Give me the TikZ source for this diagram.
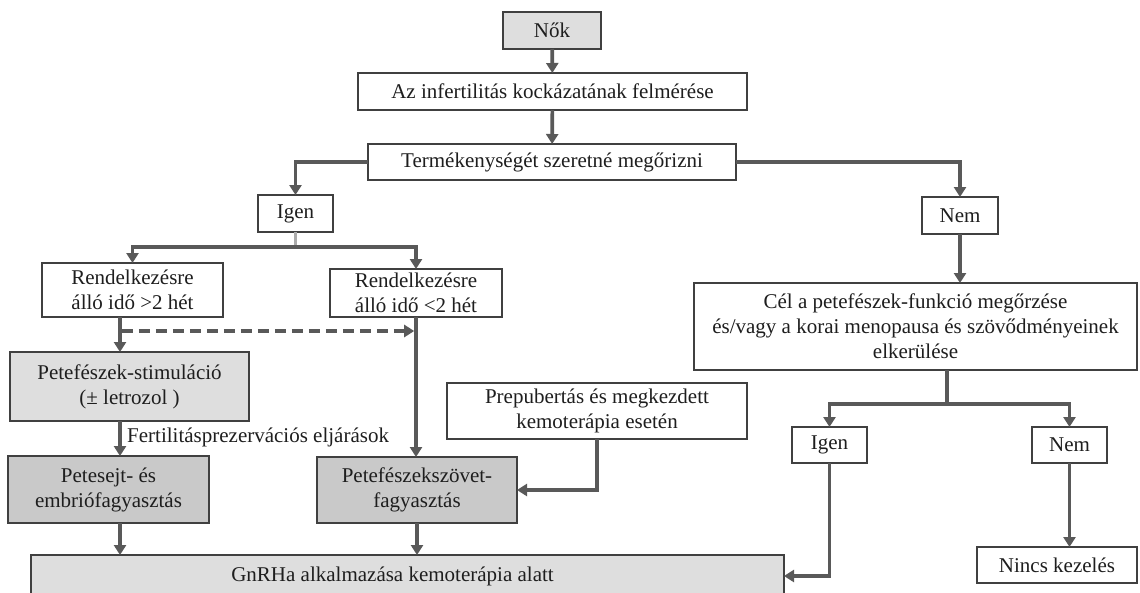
\documentclass[tikz,border=0pt]{standalone}
\usepackage{fontspec}
\setmainfont{Liberation Serif}
\usetikzlibrary{arrows.meta,calc}
\definecolor{arr}{HTML}{595959}
\definecolor{boxline}{HTML}{404040}
\definecolor{lightfill}{HTML}{DEDEDE}
\definecolor{darkfill}{HTML}{C9C9C9}
\definecolor{stubc}{HTML}{ABABAB}
\definecolor{txt}{HTML}{1E1E1E}
\tikzset{
  box/.style={draw=boxline, line width=1.1pt, fill=white, inner sep=0pt, outer sep=0pt,
    align=center, text=txt, font=\fontsize{21}{25}\selectfont},
  lbl/.style={inner sep=0pt, text=txt, font=\fontsize{21}{25}\selectfont},
  conn/.style={draw=arr, line width=3.7pt},
  arrow/.style={conn, -{Triangle[width=12pt,length=10pt]}},
  dasharrow/.style={arrow, dash pattern=on 11pt off 6pt},
  stub/.style={draw=stubc, line width=3.7pt},
}
\begin{document}
\begin{tikzpicture}[x=1pt,y=-1pt]
\useasboundingbox (0,0) rectangle (1140,592);
\clip (0,0) rectangle (1140,592);
\fill[white] (0,0) rectangle (1140,592);

% nodes
\node[box, fill=lightfill, minimum width=98pt, minimum height=37pt] (nok) at (552,30.5) {Nők};
\node[box, minimum width=389pt, minimum height=37pt] (az) at (552.5,91.5) {Az infertilitás kockázatának felmérése};
\node[box, minimum width=368pt, minimum height=36pt] (term) at (552,162) {Termékenységét szeretné megőrizni};
\node[box, minimum width=75pt, minimum height=37pt] (igen) at (295.5,213.5) {Igen};
\node[box, minimum width=76pt, minimum height=37pt] (nem) at (960,215.5) {Nem};
\node[box, minimum width=181pt, minimum height=54pt] (r1) at (132.5,290) {Rendelkezésre\\álló idő >2 hét};
\node[box, minimum width=172pt, minimum height=48pt] (r2) at (416,293) {Rendelkezésre\\álló idő <2 hét};
\node[box, fill=lightfill, minimum width=239pt, minimum height=69pt] (stim) at (129.5,386.5) {Petefészek-stimuláció\\(± letrozol )};
\node[box, fill=darkfill, minimum width=201pt, minimum height=67pt] (pe) at (108.5,489.5) {Petesejt- és\\embriófagyasztás};
\node[box, fill=darkfill, minimum width=200pt, minimum height=66pt] (pf) at (417,490) {Petefészekszövet-\\fagyasztás};
\node[box, minimum width=300pt, minimum height=56pt] (prep) at (597,411) {Prepubertás és megkezdett\\kemoterápia esetén};
\node[box, fill=lightfill, minimum width=753pt, minimum height=42pt] (gn) at (407.5,576) {\hspace*{-30pt}GnRHa alkalmazása kemoterápia alatt};
\node[box, minimum width=443pt, minimum height=87pt] (cel) at (915.5,326.5) {Cél a petefészek-funkció megőrzése\\és/vagy a korai menopausa és szövődményeinek\\elkerülése};
\node[box, minimum width=75pt, minimum height=36pt] (igen2) at (829.5,445) {Igen};
\node[box, minimum width=75pt, minimum height=36pt] (nem2) at (1069.5,445) {Nem};
\node[box, minimum width=160pt, minimum height=36pt] (nincs) at (1057,565) {Nincs kezelés};
\node[lbl, anchor=west] (fp) at (127,437) {Fertilitásprezervációs eljárások};

% helper coordinates
\coordinate (split) at (295.5,247);
\coordinate (colA) at (120,0);
\coordinate (dy) at (0,331);
\coordinate (colB) at (947,0);
\coordinate (split2) at (947,404);

% connectors
\draw[arrow] (nok) -- (az);
\draw[arrow] (az) -- (term);
\draw[arrow] (term.west) -| (igen.north);
\draw[arrow] (term.east) -| (nem.north);
\draw[stub] (igen.south) -- (split);
\draw[arrow] (split) -| (r1.north);
\draw[arrow] (split) -| (r2.north);
\draw[arrow] (r1.south -| colA) -- (stim.north -| colA);
\draw[arrow] (stim.south -| colA) -- (pe.north -| colA);
\draw[arrow] (pe.south -| colA) -- (gn.north -| colA);
\draw[dasharrow, shorten >=1.8pt] ($(colA |- dy)+(1.8,0)$) -- (r2.south |- dy);
\draw[arrow] (r2.south) -- (r2.south |- pf.north);
\draw[arrow] (prep.south) |- (pf.east);
\draw[arrow] (pf.south) -- (pf.south |- gn.north);
\draw[arrow] (nem.south) -- (nem.south |- cel.north);
\draw[conn] (cel.south -| colB) -- (split2);
\draw[arrow] (split2) -| (igen2.north);
\draw[arrow] (split2) -| (nem2.north);
\draw[arrow] (igen2.south) |- (gn.east);
\draw[arrow] (nem2.south) -- (nem2.south |- nincs.north);
\end{tikzpicture}
\end{document}
